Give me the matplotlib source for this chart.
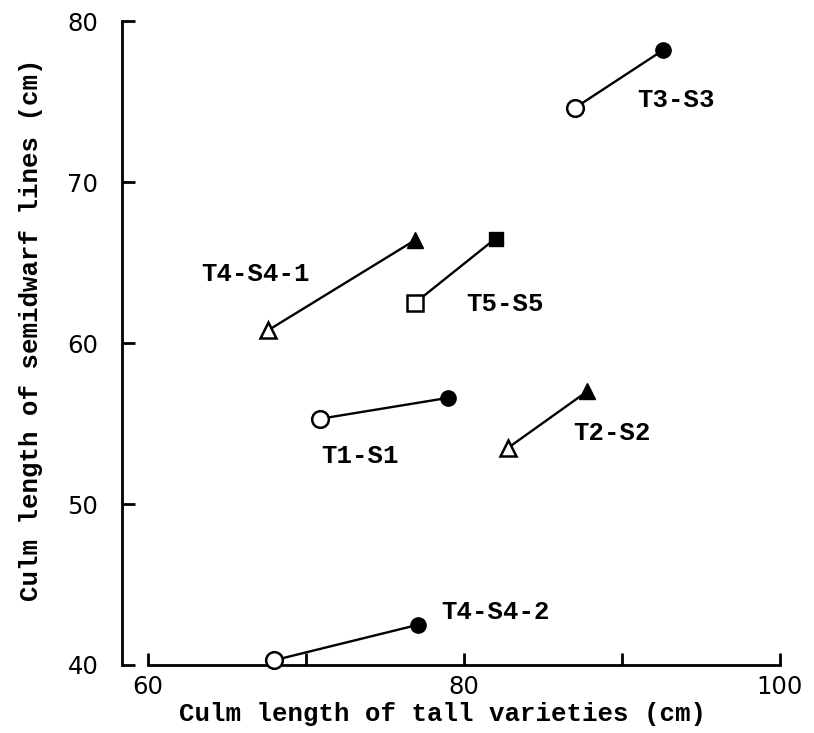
import matplotlib.pyplot as plt
from matplotlib.ticker import FixedLocator

# pairs: open marker (x0, y0) -> filled marker (x1, y1)
names = ["T1-S1", "T2-S2", "T3-S3", "T4-S4-1", "T4-S4-2", "T5-S5"]
tall_open = [70.9, 82.8, 87.0, 67.6, 68.0, 76.9]
semi_open = [55.3, 53.5, 74.6, 60.8, 40.3, 62.5]
tall_filled = [79.0, 87.8, 92.6, 76.9, 77.1, 82.0]
semi_filled = [56.6, 57.0, 78.2, 66.4, 42.5, 66.5]
shapes = ["o", "^", "o", "^", "o", "s"]

x_ticks = [60, 80, 100]
x_minor = [70, 90]
y_ticks = [40, 50, 60, 70, 80]

# label placement (data coords)
label_pos = {
    "T1-S1": (73.4, 53.0),
    "T2-S2": (89.4, 54.4),
    "T3-S3": (93.4, 75.1),
    "T4-S4-1": (66.8, 64.3),
    "T4-S4-2": (82.0, 43.3),
    "T5-S5": (82.6, 62.4),
}

mono = "Liberation Mono"

fig = plt.figure(figsize=(8.14, 7.33), dpi=100)
ax = fig.add_axes([0.150, 0.0928, 0.958 - 0.150, 0.971 - 0.0928])

for i, name in enumerate(names):
    m = shapes[i]
    ms = 12 if m != "s" else 11
    ax.plot([tall_open[i], tall_filled[i]], [semi_open[i], semi_filled[i]],
            color="black", lw=1.7, zorder=1, clip_on=False)
    ax.plot(tall_open[i], semi_open[i], marker=m, ms=ms, mfc="white",
            mec="black", mew=1.8, zorder=3, clip_on=False)
    ax.plot(tall_filled[i], semi_filled[i], marker=m, ms=ms - 1, mfc="black",
            mec="black", zorder=3, clip_on=False)
    tx, ty = label_pos[name]
    ax.text(tx, ty, name, ha="center", va="center", fontsize=18.5,
            family=mono, weight="bold")

ax.set_xlim(58.35, 100)
ax.set_ylim(40, 80)

ax.spines["top"].set_visible(False)
ax.spines["right"].set_visible(False)
ax.spines["bottom"].set_bounds(60, 100)
for s in ("left", "bottom"):
    ax.spines[s].set_linewidth(2)

ax.set_xticks(x_ticks)
ax.xaxis.set_minor_locator(FixedLocator(x_minor))
ax.set_yticks(y_ticks)
ax.tick_params(axis="both", which="both", direction="in", width=2,
               labelsize=17.5)
ax.tick_params(axis="x", which="both", length=9, pad=7)
ax.tick_params(axis="y", length=9, pad=17)

ax.set_xlabel("Culm length of tall varieties (cm)", fontsize=18.5,
              family=mono, weight="bold")
ax.set_ylabel("Culm length of semidwarf lines (cm)", fontsize=18.5,
              family=mono, weight="bold")
ax.xaxis.set_label_coords(0.487, -0.058)
ax.yaxis.set_label_coords(-0.12, 0.52)

fig.savefig("out.png", dpi=100)
